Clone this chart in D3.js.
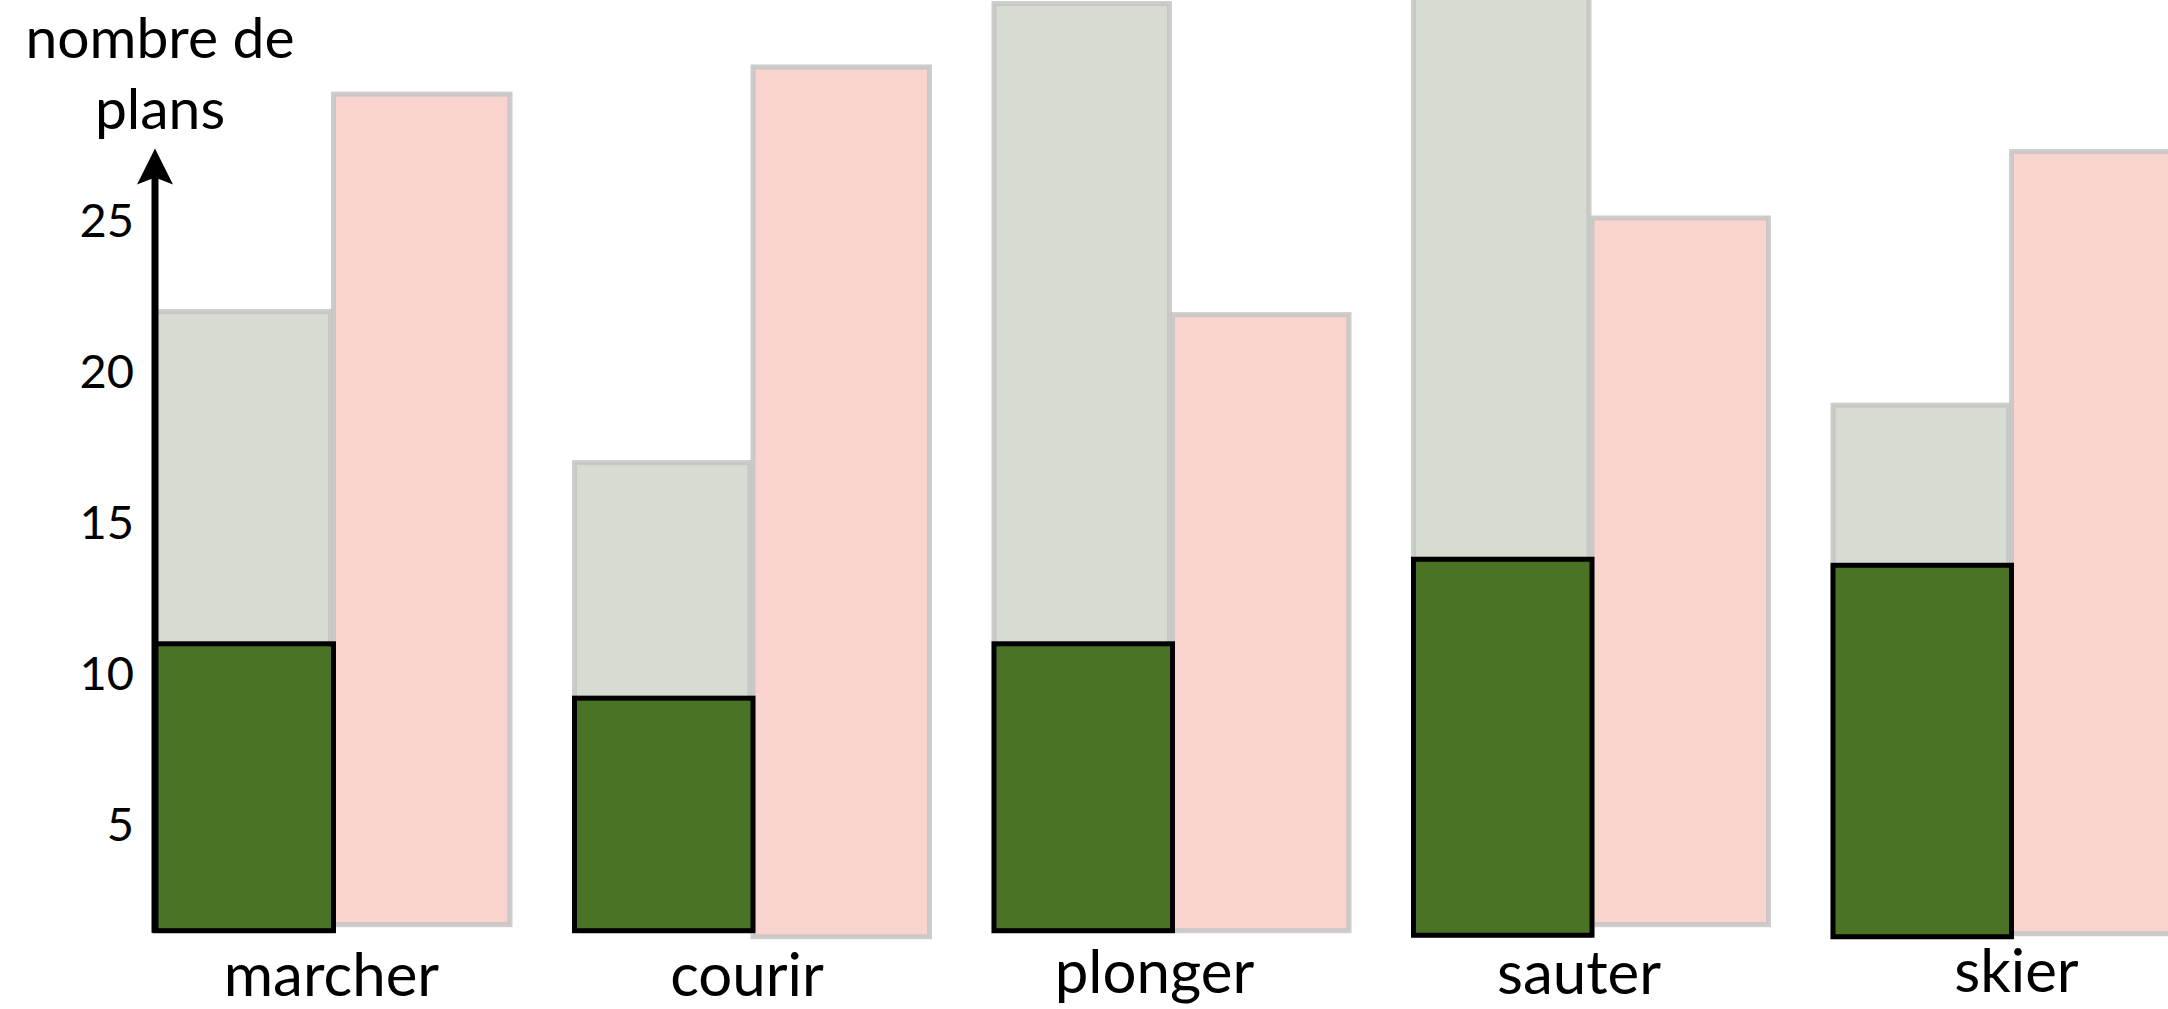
<!DOCTYPE html>
<html>
<head>
<meta charset="utf-8">
<script src="https://cdn.jsdelivr.net/npm/d3@7"></script>
<style>
  html, body { margin: 0; padding: 0; background: #ffffff; overflow: hidden; }
  svg { display: block; }
  text { font-family: Lato, "Open Sans", sans-serif; fill: #000; }
</style>
</head>
<body>
<svg id="chart" width="2168" height="1009"></svg>
<script>
// ---- data ----
const categories   = ["marcher", "courir", "plonger", "sauter", "skier"];
const totalValues  = [22, 17, 32.2, 33, 18.9];     // light green (background) bars
const greenValues  = [11, 9.2, 11, 13.8, 13.6];    // dark green bars
const pinkValues   = [29.2, 30.1, 21.9, 25.1, 27.3];
const greenBase    = [1.5, 1.5, 1.5, 1.35, 1.3];   // hand-drawn baselines
const pinkBase     = [1.7, 1.3, 1.5, 1.7, 1.4];
const tickValues   = [5, 10, 15, 20, 25];
const axisTop      = 27.4;
const yTitle       = ["nombre de", "plans"];

// ---- layout ----
const W = 2168, H = 1009;
const svg = d3.select("#chart");

const y = d3.scaleLinear().domain([0, 30]).range([976, 70]);
const x = d3.scaleBand().domain(categories).range([155, 2190])
  .paddingInner(0.149).paddingOuter(0).align(0);
const sub = d3.scaleBand().domain(["green", "pink"]).range([0, x.bandwidth()]).padding(0);

const rows = categories.map((c, i) => ({
  c, total: totalValues[i], green: greenValues[i], pink: pinkValues[i],
  gb: greenBase[i], pb: pinkBase[i]
}));

// light green background bars
svg.append("g").selectAll("rect").data(rows).join("rect")
  .attr("x", d => x(d.c) + sub("green"))
  .attr("width", sub.bandwidth() - 3)
  .attr("y", d => y(d.total))
  .attr("height", d => y(d.gb) - y(d.total))
  .attr("fill", "#d7dcd2")
  .attr("stroke", "#c4c4c4").attr("stroke-opacity", 0.85).attr("stroke-width", 5);

// pink bars
svg.append("g").selectAll("rect").data(rows).join("rect")
  .attr("x", d => x(d.c) + sub("pink"))
  .attr("width", sub.bandwidth() - 2)
  .attr("y", d => y(d.pink))
  .attr("height", d => y(d.pb) - y(d.pink))
  .attr("fill", "#f9d3cd")
  .attr("stroke", "#c4c4c4").attr("stroke-opacity", 0.85).attr("stroke-width", 5);

// dark green bars
svg.append("g").selectAll("rect").data(rows).join("rect")
  .attr("x", d => x(d.c) + sub("green"))
  .attr("width", sub.bandwidth())
  .attr("y", d => y(d.green))
  .attr("height", d => y(d.gb) - y(d.green))
  .attr("fill", "#4a7326")
  .attr("stroke", "#000").attr("stroke-width", 5);

// y axis (labels only) via d3 axis
const axisX = x(categories[0]);
const gAxis = svg.append("g").attr("transform", `translate(${axisX},0)`)
  .call(d3.axisLeft(y).tickValues(tickValues).tickSize(0).tickPadding(21));
gAxis.select(".domain").remove();
gAxis.selectAll("text")
  .style("font-family", "Lato, 'Open Sans', sans-serif")
  .attr("font-size", 47).attr("fill", "#000");

// axis line with arrow
const tipY = y(axisTop);
svg.append("line")
  .attr("x1", axisX).attr("x2", axisX)
  .attr("y1", y(greenBase[0]) + 2).attr("y2", tipY + 20)
  .attr("stroke", "#000").attr("stroke-width", 7);
svg.append("path")
  .attr("d", `M${axisX},${tipY} L${axisX + 18},${tipY + 36} L${axisX},${tipY + 29} L${axisX - 18},${tipY + 36} Z`)
  .attr("fill", "#000");

// y title
svg.append("g").selectAll("text").data(yTitle).join("text")
  .attr("x", 160)
  .attr("y", (d, i) => 58 + i * 71)
  .attr("text-anchor", "middle")
  .attr("font-size", 57)
  .text(d => d);

// category labels (hand-placed in the original: small offsets from the bar split)
const labelDx = [-2, -6, -18, -13, 5];
const labelBaselines = [996, 996, 993, 994, 992];
svg.append("g").selectAll("text").data(categories).join("text")
  .attr("x", (d, i) => x(d) + sub("pink") + labelDx[i])
  .attr("y", (d, i) => labelBaselines[i])
  .attr("text-anchor", "middle")
  .attr("font-size", 60)
  .text(d => d);
</script>
</body>
</html>
